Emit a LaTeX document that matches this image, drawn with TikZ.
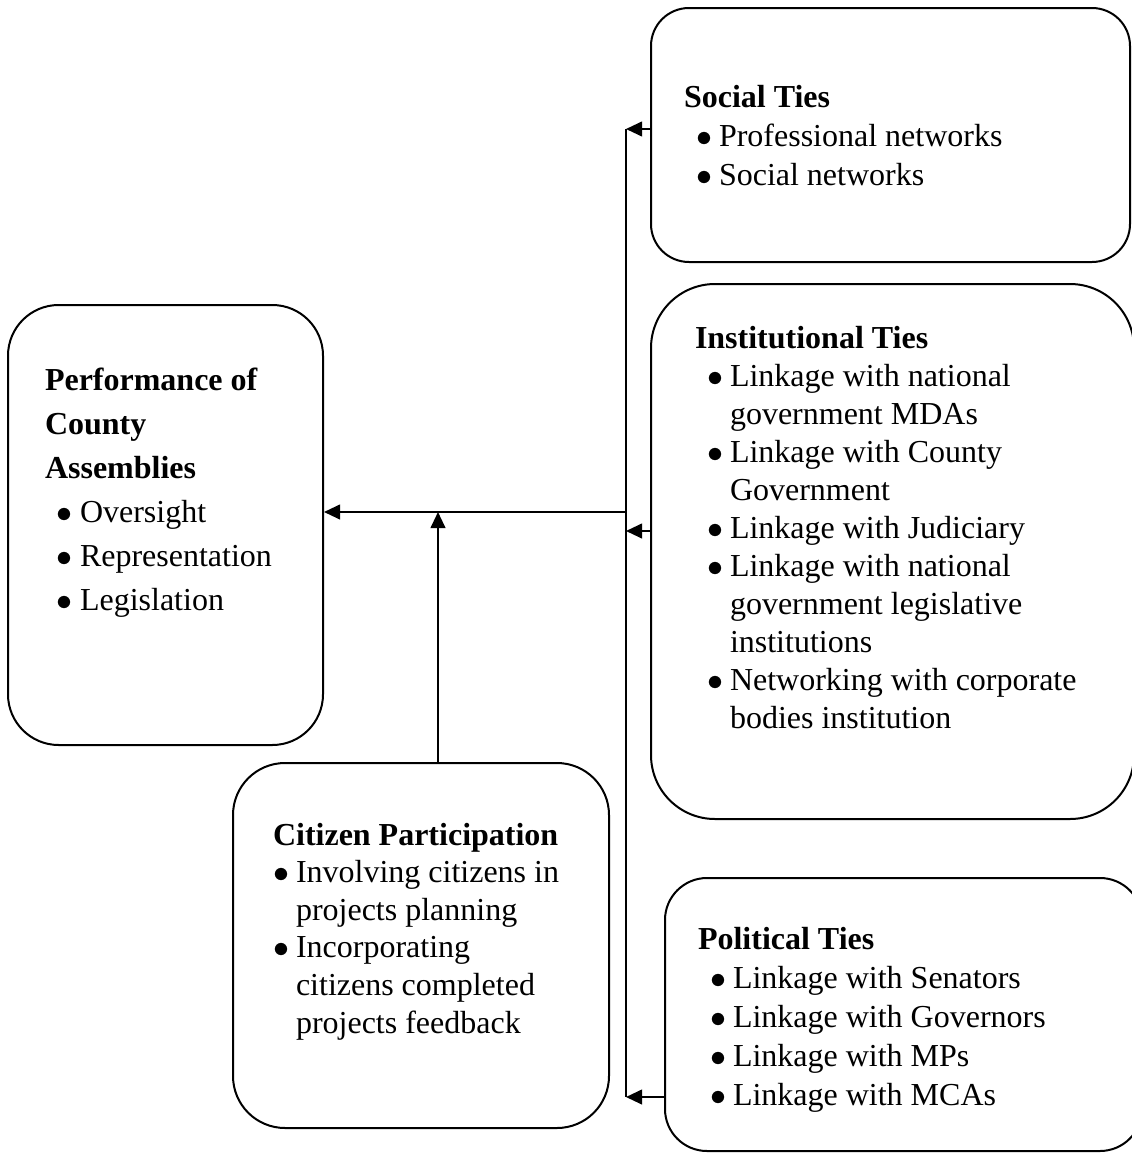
\documentclass[tikz,border=0pt]{standalone}
\usepackage{fontspec}
\setmainfont{Liberation Serif}
\usetikzlibrary{arrows.meta}

\newlength{\px}
\setlength{\px}{0.375pt}
% width, height, left pad, first baseline, line spacing, text
\newcommand{\boxbody}[6]{\parbox[c][#2\px][t]{#1\px}{\fontsize{12pt}{14pt}\selectfont
  \setlength{\baselineskip}{#5\px}\raggedright\leftskip=#3\px\relax\rule{0pt}{#4\px}#6}}
\newcommand{\bitem}[1][12]{\hspace*{#1\px}\makebox[23\px][l]{$\bullet$}}
\newcommand{\bcont}[1][12]{\hspace*{\dimexpr#1\px+23\px\relax}}

\begin{document}
\begin{tikzpicture}[x=\px, y=-\px,
  tiebox/.style={draw, inner sep=0pt, line width=0.75pt},
  feed/.style={line width=0.75pt, -{Triangle[length=6pt,width=5.5pt]}}]
\useasboundingbox (0,0) rectangle (1132,1153);

\node[tiebox, rounded corners=19pt] (perf) at (165.5,525) {\boxbody{315}{440}{37}{85}{44}{%
\textbf{Performance of}\\ \textbf{County}\\ \textbf{Assemblies}\\
\bitem Oversight\\
\bitem Representation\\
\bitem Legislation}};

\node[tiebox, rounded corners=19.5pt] (cit) at (421,945.5) {\boxbody{376}{365}{40}{82}{37.6}{%
\textbf{Citizen Participation}\\
\bitem[0]Involving citizens in\\ \bcont[0]projects planning\\
\bitem[0]Incorporating\\ \bcont[0]citizens completed\\ \bcont[0]projects feedback}};

\node[tiebox, rounded corners=14.25pt] (social) at (890.5,135) {\boxbody{479}{254}{33}{99}{39}{%
\textbf{Social Ties}\\
\bitem Professional networks\\
\bitem Social networks}};

\node[tiebox, rounded corners=24pt] (inst) at (892.5,551.5) {\boxbody{483}{535}{44}{64}{38}{%
\textbf{Institutional Ties}\\
\bitem Linkage with national\\ \bcont government MDAs\\
\bitem Linkage with County\\ \bcont Government\\
\bitem Linkage with Judiciary\\
\bitem Linkage with national\\ \bcont government legislative\\ \bcont institutions\\
\bitem Networking with corporate\\ \bcont bodies institution}};

\node[tiebox, rounded corners=15.75pt] (pol) at (903.5,1014.5) {\boxbody{477}{273}{33}{71}{39}{%
\textbf{Political Ties}\\
\bitem Linkage with Senators\\
\bitem Linkage with Governors\\
\bitem Linkage with MPs\\
\bitem Linkage with MCAs}};

% bus line and joins
\coordinate (bustop) at (626,129);
\coordinate (busmid) at (626,531);
\coordinate (busbot) at (626,1097);
\coordinate (join) at (626,512);
\coordinate (tee) at (438,512);

\draw[line width=0.75pt] (bustop) -- (busbot);
\draw[feed] (social.west |- bustop) -- (bustop);
\draw[feed] (inst.west |- busmid) -- (busmid);
\draw[feed] (pol.west |- busbot) -- (busbot);
\draw[feed] (join) -- (perf.east |- join);
\draw[feed] (tee |- cit.north) -- (tee);
\end{tikzpicture}
\end{document}
